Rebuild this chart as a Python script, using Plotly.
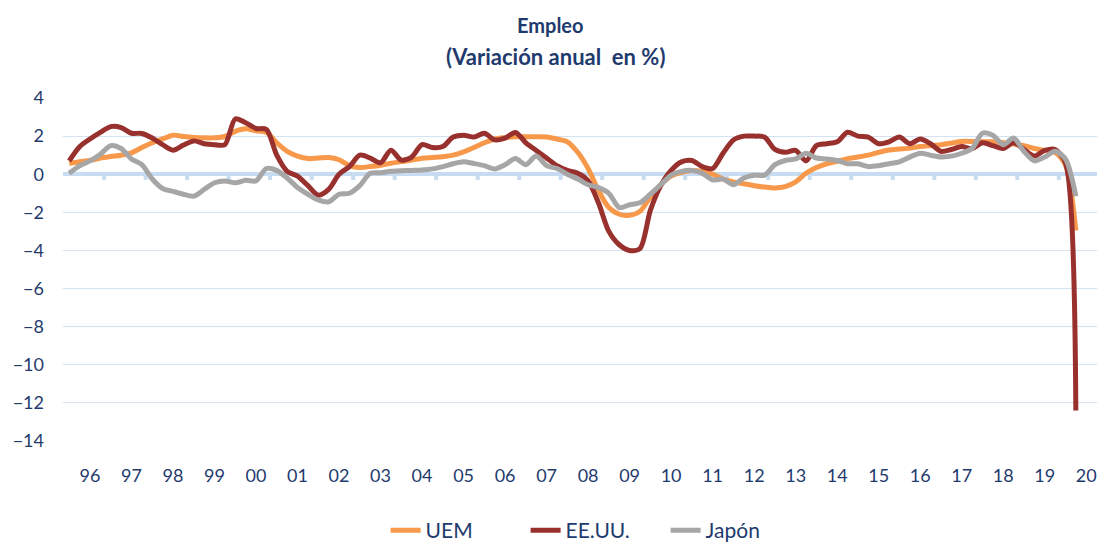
import pandas as pd
import plotly.graph_objects as go

# Quarterly observations, 1996Q1 - 2020Q2
quarters = pd.period_range("1996Q1", "2020Q2", freq="Q")

uem = [
    0.56, 0.65, 0.72, 0.85, 0.93, 1.00, 1.12, 1.40, 1.65, 1.85,
    2.05, 1.98, 1.93, 1.91, 1.91, 1.98, 2.25, 2.38, 2.28, 2.20,
    1.65, 1.20, 0.95, 0.82, 0.85, 0.88, 0.76, 0.45, 0.35, 0.40,
    0.47, 0.58, 0.66, 0.74, 0.84, 0.88, 0.92, 1.00, 1.17, 1.40,
    1.65, 1.85, 1.92, 1.96, 1.96, 1.96, 1.95, 1.85, 1.70, 1.15,
    0.30, -0.85, -1.75, -2.10, -2.15, -1.95, -1.20, -0.55, -0.10, 0.10,
    0.20, 0.15, 0.00, -0.25, -0.40, -0.50, -0.60, -0.67, -0.72, -0.65,
    -0.40, 0.05, 0.35, 0.55, 0.68, 0.82, 0.90, 1.00, 1.15, 1.27,
    1.32, 1.37, 1.45, 1.50, 1.55, 1.63, 1.72, 1.72, 1.70, 1.70,
    1.65, 1.58, 1.50, 1.35, 1.25, 1.15, 0.50, -2.95,
]

eeuu = [
    0.70, 1.44, 1.85, 2.20, 2.50, 2.45, 2.15, 2.14, 1.90, 1.55,
    1.26, 1.53, 1.75, 1.60, 1.55, 1.55, 2.90, 2.70, 2.40, 2.35,
    1.00, 0.15, -0.10, -0.60, -1.10, -0.80, 0.00, 0.40, 1.00, 0.85,
    0.60, 1.26, 0.74, 0.90, 1.55, 1.40, 1.45, 1.95, 2.05, 1.95,
    2.15, 1.80, 1.90, 2.19, 1.65, 1.25, 0.85, 0.45, 0.20, 0.05,
    -0.35, -1.50, -3.00, -3.70, -4.00, -3.90, -1.90, -0.60, 0.20, 0.65,
    0.72, 0.40, 0.30, 1.10, 1.80, 2.00, 2.00, 1.95, 1.30, 1.15,
    1.25, 0.70, 1.50, 1.60, 1.70, 2.20, 2.00, 1.95, 1.60, 1.70,
    1.95, 1.60, 1.85, 1.60, 1.20, 1.30, 1.45, 1.35, 1.65, 1.50,
    1.35, 1.65, 1.30, 0.95, 1.25, 1.30, 0.60, -12.40,
]

japon = [
    0.05, 0.44, 0.70, 1.05, 1.50, 1.35, 0.80, 0.50, -0.25, -0.75,
    -0.90, -1.05, -1.15, -0.80, -0.45, -0.35, -0.45, -0.32, -0.35, 0.30,
    0.20, -0.20, -0.70, -1.05, -1.35, -1.45, -1.05, -1.00, -0.60, 0.05,
    0.08, 0.15, 0.18, 0.20, 0.22, 0.28, 0.40, 0.55, 0.65, 0.56,
    0.45, 0.28, 0.50, 0.82, 0.50, 0.95, 0.45, 0.30, 0.00, -0.25,
    -0.55, -0.70, -1.00, -1.75, -1.60, -1.50, -1.05, -0.55, -0.05, 0.15,
    0.20, 0.05, -0.30, -0.25, -0.55, -0.20, -0.05, -0.05, 0.50, 0.72,
    0.80, 1.10, 0.85, 0.80, 0.72, 0.55, 0.55, 0.40, 0.45, 0.55,
    0.65, 0.90, 1.10, 1.00, 0.91, 0.95, 1.10, 1.35, 2.15, 2.05,
    1.55, 1.90, 1.20, 0.70, 0.90, 1.20, 0.80, -1.15,
]

years = list(range(1996, 2021))
year_labels = [f"{y % 100:02d}" for y in years]
y_ticks = list(range(-14, 5, 2))

series = [
    ("UEM", uem, "#F7984A"),
    ("EE.UU.", eeuu, "#98302D"),
    ("Japón", japon, "#A6A6A6"),
]

NAVY = "#1F3B6E"
GRID = "#D5E2F2"
ZERO = "#C7DBF1"
FONT = "Lato"

t = [q.year + (q.quarter - 1) / 4 for q in quarters]

fig = go.Figure()
for name, values, color in series:
    fig.add_trace(go.Scatter(
        x=t, y=values, name=name, mode="lines",
        line=dict(color=color, width=5, shape="spline", smoothing=0.8),
    ))

# small tick marks hanging below the zero line, one per year
for y in years[:-1]:
    fig.add_shape(type="line", xref="x", yref="y",
                  x0=y + 0.84, x1=y + 0.84, y0=0, y1=-0.3,
                  line=dict(color=ZERO, width=4), layer="below")

fig.add_annotation(text="<b>Empleo</b>", xref="paper", yref="paper",
                   x=0.471, y=1 + (98 - 25) / 343, yanchor="middle",
                   showarrow=False,
                   font=dict(family=FONT, size=20, color=NAVY))
fig.add_annotation(text="<b>(Variación anual\u00a0 en %)</b>", xref="paper",
                   yref="paper", x=0.476, y=1 + (98 - 57) / 343,
                   yanchor="middle", showarrow=False,
                   font=dict(family=FONT, size=22, color=NAVY))

fig.update_layout(
    width=1099, height=547,
    margin=dict(l=63, r=2, t=98, b=106, autoexpand=False),
    paper_bgcolor="white", plot_bgcolor="white",
    font=dict(family=FONT, color=NAVY, size=17),
    showlegend=True,
    legend=dict(orientation="h", x=0.312, xanchor="left",
                yref="container", y=0.03, yanchor="middle",
                font=dict(family=FONT, size=21, color=NAVY),
                entrywidth=95, entrywidthmode="pixels"),
    xaxis=dict(range=[1995.85, 2020.76], tickvals=[y + 0.5 for y in years],
               ticktext=year_labels, showgrid=False, zeroline=False,
               showline=False, ticks="", ticklabelstandoff=22,
               tickfont=dict(family=FONT, size=18, color=NAVY)),
    yaxis=dict(range=[-14, 4], tickvals=y_ticks, showgrid=True,
               gridcolor=GRID, gridwidth=1.2, zeroline=True,
               zerolinecolor=ZERO, zerolinewidth=4, showline=False,
               ticks="", ticklabelstandoff=18,
               tickfont=dict(family=FONT, size=18, color=NAVY)),
)

fig.write_html("out.html")
